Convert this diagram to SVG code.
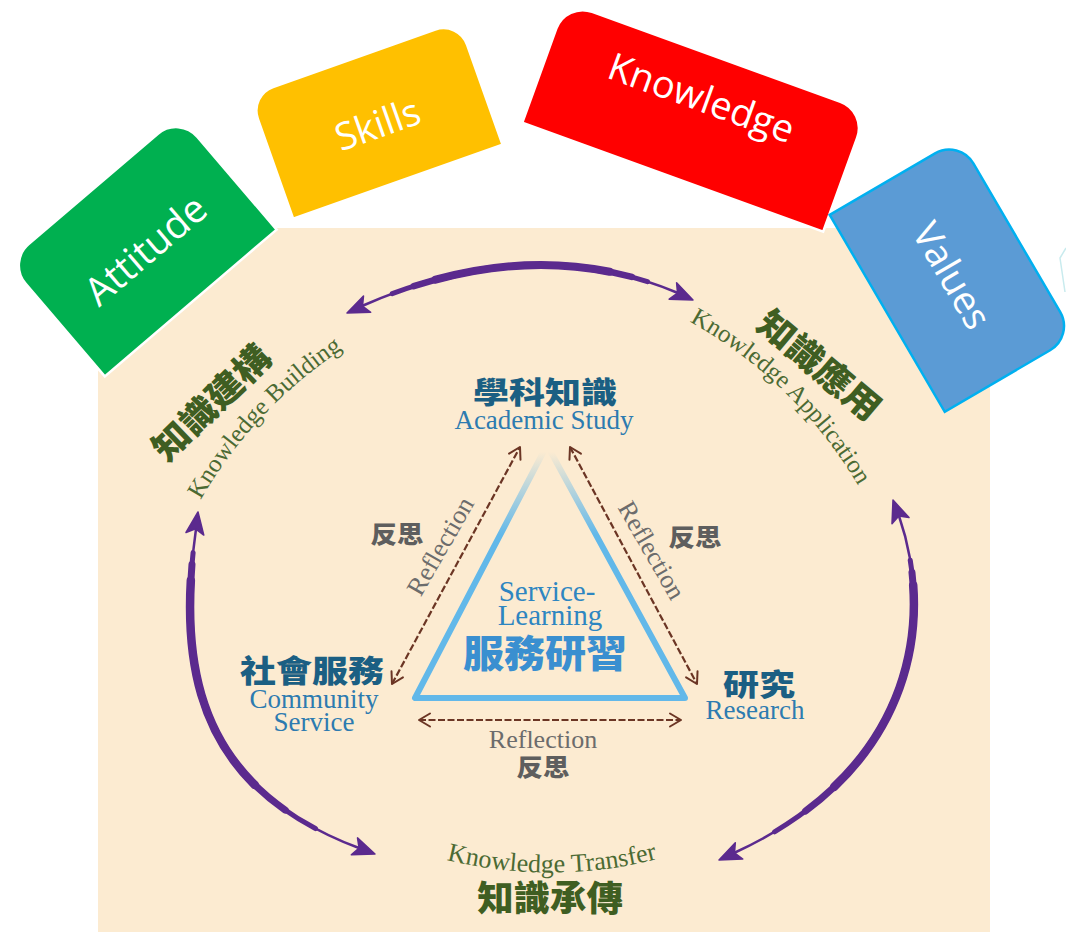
<svg xmlns="http://www.w3.org/2000/svg" width="1066" height="932" viewBox="0 0 1066 932">
<defs>
<style>
.bg{fill:#FCEBD1}
.box-text{font-family:"Open Sans","Noto Sans",sans-serif;font-size:38px;fill:#ffffff;text-anchor:middle}
.cjk{font-family:"Noto Sans CJK TC","Noto Sans CJK SC",sans-serif;font-weight:900;text-anchor:middle}
.serif{font-family:"Liberation Serif","DejaVu Serif",serif}
.mid{text-anchor:middle}
.teal{fill:#1B5F83}
.blue{fill:#2D7BB0}
.gray{fill:#5E5E5E}
.refl{fill:#6C6C6C;font-size:26px}
.kgreen{fill:#4B6A33;font-size:25px}
.cgreen{fill:#3F5E22}
.arc{fill:none;stroke:#5B2A8E;stroke-linecap:round}
.thin{stroke-width:2.5}
.brown{fill:none;stroke:#6B3524;stroke-width:2.2;stroke-dasharray:7 2.5}
.head{fill:#5B2A8E;stroke:#5B2A8E;stroke-width:1.5;stroke-linejoin:round}
</style>
<linearGradient id="fade" gradientUnits="userSpaceOnUse" x1="0" y1="452" x2="0" y2="535">
<stop offset="0" stop-color="#62B8E9" stop-opacity="0"/>
<stop offset="1" stop-color="#62B8E9" stop-opacity="1"/>
</linearGradient>
<marker id="bh" viewBox="0 0 16 16" markerWidth="16" markerHeight="16" refX="14" refY="8" orient="auto-start-reverse" markerUnits="userSpaceOnUse">
<path d="M3,1.5 L14,8 L3,14.5" fill="none" stroke="#6B3524" stroke-width="2" stroke-linecap="round" stroke-linejoin="round"/>
</marker>
<path id="arcTop" pathLength="100" d="M362,306 Q532,231 678,293"/>
<path id="arcLeft" pathLength="100" d="M196,529 C175,680 205,790 359,848"/>
<path id="arcRight" pathLength="100" d="M899,516 C935,620 915,770 734,853"/>
<path id="kbPath" d="M195,510 A450,450 0 0 1 352,343"/>
<path id="kaPath" d="M683,318 A450,450 0 0 1 862,492"/>
<path id="ktPath" d="M432,856 A430,430 0 0 0 672,855"/>
</defs>

<rect class="bg" x="98" y="228" width="892" height="704"/>
<polyline points="1066,248 1060,258 1065,292" fill="none" stroke="#C9EBEE" stroke-width="1.5"/>

<g id="connectors">
<g id="purple-top">
<use href="#arcTop" class="arc thin"/>
<use href="#arcTop" class="arc" style="stroke-width:5;stroke-dasharray:80 200;stroke-dashoffset:-10"/>
<use href="#arcTop" class="arc" style="stroke-width:6.5;stroke-dasharray:68 200;stroke-dashoffset:-17"/>
<use href="#arcTop" class="arc" style="stroke-width:8;stroke-dasharray:54 200;stroke-dashoffset:-24"/>
<polygon class="head" points="347,313 370.7,312.3 362.5,306.1 363.5,295.9"/>
<polygon class="head" points="693,300 676.6,282.8 677.5,293 669.2,299.2"/>
</g>
<g id="purple-left">
<use href="#arcLeft" class="arc thin"/>
<use href="#arcLeft" class="arc" style="stroke-width:5;stroke-dasharray:82 200;stroke-dashoffset:-6"/>
<use href="#arcLeft" class="arc" style="stroke-width:7;stroke-dasharray:70 200;stroke-dashoffset:-9"/>
<use href="#arcLeft" class="arc" style="stroke-width:8.5;stroke-dasharray:56 200;stroke-dashoffset:-13"/>
<polygon class="head" points="198,512 203.8,535.1 195.6,528.8 186,532.5"/>
<polygon class="head" points="375,854 357.5,837.9 359.1,848.1 351.3,854.7"/>
</g>
<g id="purple-right">
<use href="#arcRight" class="arc thin"/>
<use href="#arcRight" class="arc" style="stroke-width:5;stroke-dasharray:78 200;stroke-dashoffset:-11"/>
<use href="#arcRight" class="arc" style="stroke-width:7;stroke-dasharray:66 200;stroke-dashoffset:-14"/>
<use href="#arcRight" class="arc" style="stroke-width:8.5;stroke-dasharray:54 200;stroke-dashoffset:-17"/>
<polygon class="head" points="893,500 909,517.6 898.8,516 892,523.8"/>
<polygon class="head" points="719,860 742.8,859.1 734.5,852.9 735.3,842.7"/>
</g>
<g id="reflection-arrows">
<path class="brown" d="M392,684 L520,447" marker-start="url(#bh)" marker-end="url(#bh)"/>
<path class="brown" d="M570,447 L697,684" marker-start="url(#bh)" marker-end="url(#bh)"/>
<path class="brown" d="M419,720 L681,720" marker-start="url(#bh)" marker-end="url(#bh)"/>
</g>
<g id="reflection-labels">
<text class="serif mid refl" transform="translate(440,546) rotate(-60)" y="9">Reflection</text>
<text class="serif mid refl" transform="translate(652,550) rotate(60)" y="9">Reflection</text>
<text class="serif mid refl" x="543" y="748">Reflection</text>
<text class="cjk gray" font-size="24" transform="translate(397,543) scale(1.1,1)">反思</text>
<text class="cjk gray" font-size="24" transform="translate(695,546) scale(1.1,1)">反思</text>
<text class="cjk gray" font-size="24" transform="translate(543,776) scale(1.1,1)">反思</text>
</g>
</g>

<g id="triangle">
<path d="M547,445 L415,698 L685,698 Z" fill="none" stroke="url(#fade)" stroke-width="6" stroke-linejoin="round"/>
</g>

<g id="node-center">
<text class="serif mid" x="547" y="601" font-size="29" fill="#2E86C1">Service-</text>
<text class="serif mid" x="550" y="625" font-size="29" fill="#2E86C1">Learning</text>
<text class="cjk" font-size="38" fill="#3A8FD0" transform="translate(545,667) scale(1.08,1)">服務研習</text>
</g>

<g id="node-academic">
<text class="cjk teal" font-size="30" transform="translate(545,403) scale(1.2,1)">學科知識</text>
<text class="serif mid blue" x="544" y="429" font-size="27">Academic Study</text>
</g>

<g id="node-community">
<text class="cjk teal" font-size="31" transform="translate(312,682) scale(1.16,1)">社會服務</text>
<text class="serif mid blue" x="314" y="708" font-size="27">Community</text>
<text class="serif mid blue" x="314" y="731" font-size="27">Service</text>
</g>

<g id="node-research">
<text class="cjk teal" font-size="30" transform="translate(759,695) scale(1.2,1)">研究</text>
<text class="serif mid blue" x="755" y="719" font-size="27">Research</text>
</g>

<g id="label-building">
<text class="cjk cgreen" font-size="35" transform="translate(212,403) rotate(-44) scale(1.06,1)" y="12">知識建構</text>
<text class="serif kgreen" text-anchor="middle"><textPath href="#kbPath" startOffset="50%">Knowledge Building</textPath></text>
</g>

<g id="label-application">
<text class="cjk cgreen" font-size="35" transform="translate(819,366) rotate(40) scale(1.06,1)" y="12">知識應用</text>
<text class="serif kgreen" text-anchor="middle"><textPath href="#kaPath" startOffset="50%">Knowledge Application</textPath></text>
</g>

<g id="label-transfer">
<text class="serif kgreen" text-anchor="middle" style="font-size:26px"><textPath href="#ktPath" startOffset="50%">Knowledge Transfer</textPath></text>
<text class="cjk cgreen" font-size="35" transform="translate(550,911) scale(1.04,1)">知識承傳</text>
</g>

<g id="box-attitude" transform="translate(142,246) rotate(-40.5)">
<path d="M-113,75 V-47 A28,28 0 0 1 -85,-75 H85 A28,28 0 0 1 113,-47 V75 Z" fill="#00B050" stroke="#ffffff" stroke-width="2.5"/>
<text class="box-text" x="0" y="19" style="font-size:39px">Attitude</text>
</g>

<g id="box-skills" transform="translate(376,120) rotate(-19.5)">
<path d="M-111,65.5 V-40.5 A25,25 0 0 1 -86,-65.5 H86 A25,25 0 0 1 111,-40.5 V65.5 Z" fill="#FFC000" stroke="#ffffff" stroke-width="2.5"/>
<text class="box-text" x="0" y="18">Skills</text>
</g>

<g id="box-knowledge" transform="translate(694.5,117) rotate(19.9)">
<path d="M-160,64 V-36 A28,28 0 0 1 -132,-64 H132 A28,28 0 0 1 160,-36 V64 Z" fill="#FF0000" stroke="#ffffff" stroke-width="2.5"/>
<text class="box-text" x="0" y="-7">Knowledge</text>
</g>

<g id="box-values" transform="translate(952,275.5) rotate(59.7)">
<path d="M-114,75 V-47 A28,28 0 0 1 -86,-75 H86 A28,28 0 0 1 114,-47 V75 Z" fill="#5B9BD5" stroke="#00B0F0" stroke-width="2.5"/>
<text class="box-text" x="0" y="13.5">Values</text>
</g>
</svg>
